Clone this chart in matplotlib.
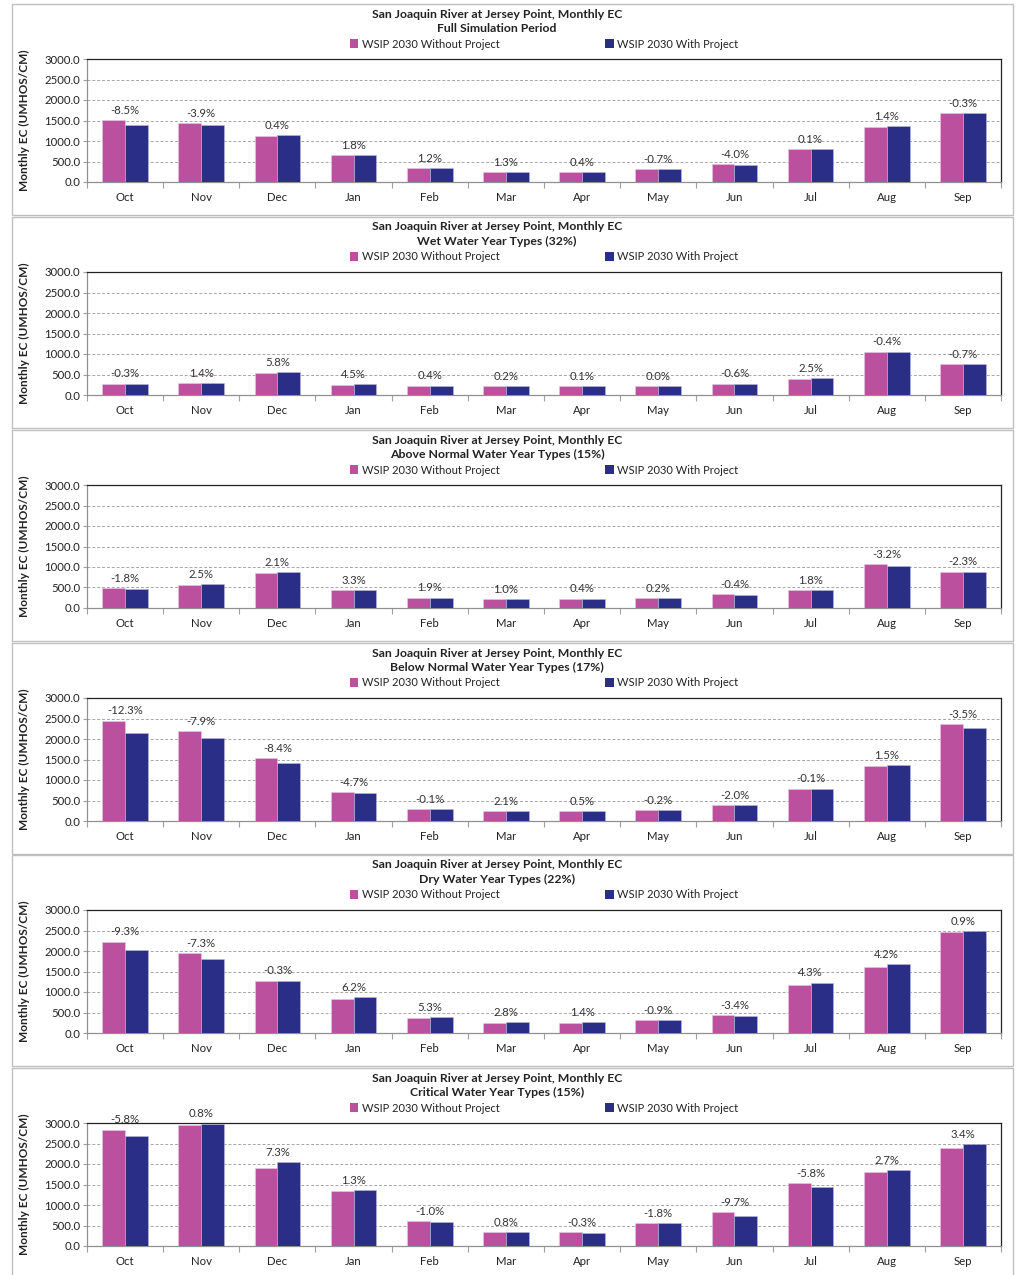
import matplotlib
matplotlib.use("Agg")
import matplotlib.pyplot as plt
from matplotlib.patches import Rectangle, Patch
import numpy as np

plt.rcParams['font.family'] = ['Lato', 'DejaVu Sans']

months = ["Oct", "Nov", "Dec", "Jan", "Feb", "Mar", "Apr", "May", "Jun", "Jul", "Aug", "Sep"]
series_names = ["WSIP 2030 Without Project", "WSIP 2030 With Project"]

title_line1 = "San Joaquin River at Jersey Point, Monthly EC"
subtitles = [
    "Full Simulation Period",
    "Wet Water Year Types (32%)",
    "Above Normal Water Year Types (15%)",
    "Below Normal Water Year Types (17%)",
    "Dry Water Year Types (22%)",
    "Critical Water Year Types (15%)",
]

# Full simulation period
full_without = [1510, 1440, 1130, 650, 330, 245, 250, 310, 430, 810, 1350, 1680]
full_with = [1390, 1385, 1135, 660, 335, 248, 251, 308, 413, 811, 1370, 1675]
full_pct = ["-8.5%", "-3.9%", "0.4%", "1.8%", "1.2%", "1.3%", "0.4%", "-0.7%", "-4.0%", "0.1%", "1.4%", "-0.3%"]

# Wet
wet_without = [280, 290, 530, 250, 230, 210, 220, 220, 280, 400, 1060, 750]
wet_with = [279, 294, 561, 261, 231, 210, 220, 220, 278, 410, 1056, 745]
wet_pct = ["-0.3%", "1.4%", "5.8%", "4.5%", "0.4%", "0.2%", "0.1%", "0.0%", "-0.6%", "2.5%", "-0.4%", "-0.7%"]

# Above normal
an_without = [480, 570, 850, 430, 250, 210, 230, 240, 330, 430, 1070, 890]
an_with = [471, 584, 868, 444, 255, 212, 231, 240, 329, 438, 1036, 870]
an_pct = ["-1.8%", "2.5%", "2.1%", "3.3%", "1.9%", "1.0%", "0.4%", "0.2%", "-0.4%", "1.8%", "-3.2%", "-2.3%"]

# Below normal
bn_without = [2450, 2190, 1540, 710, 290, 240, 245, 270, 390, 790, 1340, 2360]
bn_with = [2150, 2017, 1410, 677, 290, 245, 246, 269, 382, 789, 1360, 2277]
bn_pct = ["-12.3%", "-7.9%", "-8.4%", "-4.7%", "-0.1%", "2.1%", "0.5%", "-0.2%", "-2.0%", "-0.1%", "1.5%", "-3.5%"]

# Dry
dry_without = [2230, 1940, 1280, 830, 360, 250, 255, 320, 440, 1180, 1620, 2460]
dry_with = [2023, 1798, 1276, 881, 379, 257, 259, 317, 425, 1231, 1688, 2482]
dry_pct = ["-9.3%", "-7.3%", "-0.3%", "6.2%", "5.3%", "2.8%", "1.4%", "-0.9%", "-3.4%", "4.3%", "4.2%", "0.9%"]

# Critical
crit_without = [2840, 2960, 1900, 1350, 600, 330, 330, 560, 820, 1540, 1810, 2400]
crit_with = [2675, 2984, 2039, 1368, 594, 333, 329, 550, 740, 1451, 1859, 2482]
crit_pct = ["-5.8%", "0.8%", "7.3%", "1.3%", "-1.0%", "0.8%", "-0.3%", "-1.8%", "-9.7%", "-5.8%", "2.7%", "3.4%"]

panels = [
    (full_without, full_with, full_pct),
    (wet_without, wet_with, wet_pct),
    (an_without, an_with, an_pct),
    (bn_without, bn_with, bn_pct),
    (dry_without, dry_with, dry_pct),
    (crit_without, crit_with, crit_pct),
]

yticks = [0, 500, 1000, 1500, 2000, 2500, 3000]

PINK = "#BB509F"
BLUE = "#2B2E86"

W, H = 1019, 1275
fig = plt.figure(figsize=(W / 100, H / 100), dpi=100)

def fx(px):
    return px / W

def fy(py):
    return 1 - py / H

panel_tops = [4, 217, 430, 643, 855, 1068]
ax_left, ax_right = 87, 1001

for i, (wo, wi, pct) in enumerate(panels):
    top = panel_tops[i]
    bottom = top + 211
    # panel frame
    fig.patches.append(Rectangle((fx(12), fy(bottom)), fx(1013) - fx(12), fy(top) - fy(bottom),
                                 transform=fig.transFigure, fill=False, edgecolor="#BFBFBF",
                                 linewidth=1.0, zorder=0))
    ax_top = top + 55
    ax_bot = top + 178
    ax = fig.add_axes([fx(ax_left), fy(ax_bot), fx(ax_right) - fx(ax_left), fy(ax_top) - fy(ax_bot)])
    x = np.arange(len(months))
    bw = 0.3
    ax.bar(x - bw / 2, wo, bw, color=PINK, edgecolor="#E8C8E0", linewidth=0.4, zorder=3)
    ax.bar(x + bw / 2, wi, bw, color=BLUE, edgecolor="#B8B8DC", linewidth=0.4, zorder=3)
    for j in range(len(months)):
        top_val = max(wo[j], wi[j])
        ax.annotate(pct[j], (x[j], top_val), xytext=(0, 3), textcoords="offset points",
                    ha="center", va="bottom", fontsize=8.2, color="#333333", zorder=5,
                    annotation_clip=False)
    ax.set_xlim(-0.5, len(months) - 0.5)
    ax.set_ylim(0, 3000)
    ax.set_yticks(yticks)
    ax.set_yticklabels([f"{v:.1f}" for v in yticks], fontsize=8.2, color="#222222")
    for v in yticks[1:-1]:
        ax.axhline(v, color="#A6A6A6", linestyle=(0, (3, 2)), linewidth=0.7, zorder=1)
    ax.set_xticks(x)
    ax.set_xticklabels(months, fontsize=8.2, color="#222222")
    ax.tick_params(axis="x", length=0, pad=7)
    ax.set_xticks(np.arange(-0.5, len(months), 1.0), minor=True)
    ax.tick_params(axis="x", which="minor", length=4, color="#A0A0A0", width=0.8)
    ax.tick_params(axis="y", length=3, color="#A0A0A0", width=0.8, pad=2)
    ax.spines["left"].set_color("#909090")
    ax.spines["bottom"].set_color("#909090")
    ax.spines["top"].set_color("#222222")
    ax.spines["right"].set_color("#222222")
    for s in ax.spines.values():
        s.set_linewidth(0.9)
    ax.set_ylabel("Monthly EC (UMHOS/CM)", fontsize=8.5, fontweight="bold", color="#222222")
    ax.yaxis.set_label_coords(fx(30 - ax_left) / (fx(ax_right) - fx(ax_left)), 0.5)

    fig.text(fx(497), fy(top + 10), title_line1, ha="center", va="center", fontsize=8.8,
             fontweight="bold", color="#222222")
    fig.text(fx(497), fy(top + 24), subtitles[i], ha="center", va="center", fontsize=8.8,
             fontweight="bold", color="#222222")
    handles = [Patch(facecolor=PINK, edgecolor="none"), Patch(facecolor=BLUE, edgecolor="none")]
    fig.legend(handles, series_names, loc="center", bbox_to_anchor=(fx(544), fy(top + 40)),
               ncol=2, frameon=False, fontsize=8, handlelength=0.8, handleheight=0.8,
               handletextpad=0.3, columnspacing=9.5, labelcolor="#222222")

fig.savefig("out.png", dpi=100, facecolor="white")
